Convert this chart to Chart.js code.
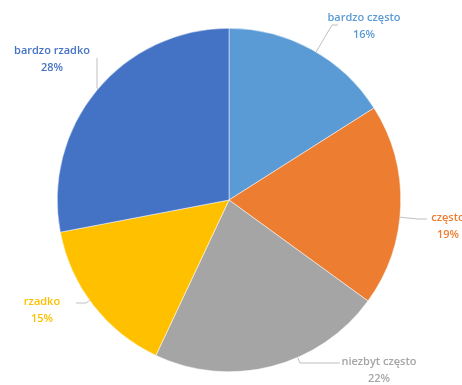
<!DOCTYPE html>
<html>
<head>
<meta charset="utf-8">
<script src="https://cdn.jsdelivr.net/npm/chart.js@4/dist/chart.umd.min.js"></script>
<style>
  html, body { margin: 0; padding: 0; background: #fff; overflow: hidden; }
  #wrap { width: 462px; height: 385px; }
</style>
</head>
<body>
<div id="wrap"><canvas id="c" width="462" height="385"></canvas></div>
<script>
// dane
const KATEGORIE = ["bardzo często", "często", "niezbyt często", "rzadko", "bardzo rzadko"];
const PROCENTY = [16, 19, 22, 15, 28];
const BARWY = ["#5b9bd5", "#ed7d31", "#a5a5a5", "#ffc000", "#4472c4"];

// rozmieszczenie etykiet: tekst (środek) + punkty linii odniesienia
const ETYKIETY = [
  { x: 364, y: 18, lead: [[332, 25], [338, 25]] },
  { x: 448, y: 218, lead: [[418, 219], [427, 219]] },
  { x: 379, y: 362, lead: [[300, 363], [340, 363]] },
  { x: 42, y: 302, lead: [[86, 303], [76, 303]] },
  { x: 52, y: 51, lead: [[97, 88], [97, 58]] },
];

const etykietyPlugin = {
  id: "etykiety",
  afterDatasetsDraw(chart) {
    const ctx = chart.ctx;
    const arc = chart.getDatasetMeta(0).data[0];
    const cx = arc.x, cy = arc.y, r = arc.outerRadius;
    ctx.save();
    ETYKIETY.forEach((e, i) => {
      // linia od krawędzi koła do etykiety
      const [ex, ey] = e.lead[0];
      const dx = ex - cx, dy = ey - cy, d = Math.hypot(dx, dy);
      ctx.strokeStyle = "#bfbfbf";
      ctx.lineWidth = 1;
      ctx.beginPath();
      ctx.moveTo(cx + dx / d * r, cy + dy / d * r);
      e.lead.forEach(p => ctx.lineTo(p[0], p[1]));
      ctx.stroke();
      // tekst
      ctx.fillStyle = BARWY[i];
      ctx.font = "600 11px 'Open Sans', sans-serif";
      ctx.textAlign = "center";
      ctx.textBaseline = "middle";
      ctx.fillText(KATEGORIE[i], e.x, e.y);
      ctx.fillText(PROCENTY[i] + "%", e.x, e.y + 17);
    });
    ctx.restore();
  },
};

new Chart(document.getElementById("c"), {
  type: "pie",
  data: {
    labels: KATEGORIE,
    datasets: [{ data: PROCENTY, backgroundColor: BARWY, borderWidth: 0.5, borderColor: "#fff" }],
  },
  options: {
    responsive: false,
    animation: false,
    layout: { padding: { left: 57, right: 61, top: 28, bottom: 13 } },
    plugins: { legend: { display: false }, tooltip: { enabled: false } },
  },
  plugins: [etykietyPlugin],
});
</script>
</body>
</html>
